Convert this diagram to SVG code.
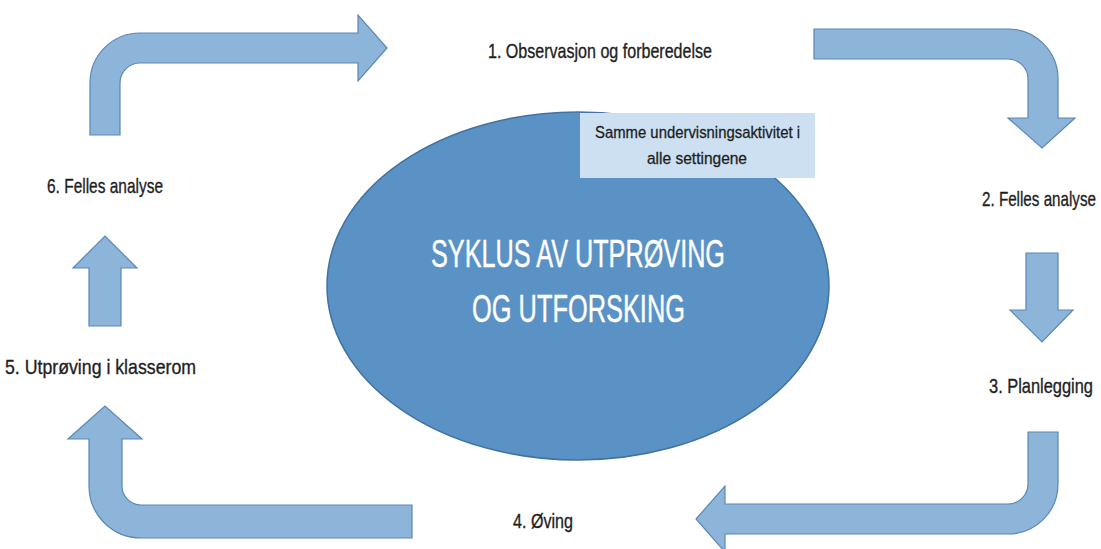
<svg xmlns="http://www.w3.org/2000/svg" width="1101" height="549" viewBox="0 0 1101 549">
<style>
.arr{fill:#8DB5DA;stroke:#5B87B5;stroke-width:1.2;stroke-linejoin:miter}
.lbl{font-family:"Liberation Sans",Arial,sans-serif;font-size:21px;fill:#1e1e1e;stroke:#1e1e1e;stroke-width:0.35}
.end{text-anchor:end}
.ttl{font-family:"Liberation Sans",Arial,sans-serif;font-size:38px;fill:#ffffff;stroke:#ffffff;stroke-width:0.4}
.box{font-family:"Liberation Sans",Arial,sans-serif;font-size:17px;fill:#1e1e1e;stroke:#1e1e1e;stroke-width:0.3}
</style>
<rect width="1101" height="549" fill="#ffffff"/>
<g id="center">
<ellipse cx="578" cy="286" rx="251" ry="174" fill="#5A92C5" stroke="#4272A0" stroke-width="1.5"/>
<text class="ttl" x="431" y="267" textLength="294" lengthAdjust="spacingAndGlyphs">SYKLUS AV UTPRØVING</text>
<text class="ttl" x="472" y="322" textLength="213" lengthAdjust="spacingAndGlyphs">OG UTFORSKING</text>
</g>
<g id="note">
<rect x="580" y="113" width="235" height="65" fill="#CCE0F2"/>
<text class="box" x="595" y="138" textLength="205" lengthAdjust="spacingAndGlyphs">Samme undervisningsaktivitet i</text>
<text class="box" x="647" y="164" textLength="100" lengthAdjust="spacingAndGlyphs">alle settingene</text>
</g>
<g id="connectors">
<path class="arr" d="M90,135 L90,83 A50,50 0 0 1 140,33 L358,33 L358,15 L387,48 L358,81 L358,63 L140,63 A20,20 0 0 0 120,83 L120,135 Z"/>
<path class="arr" d="M814,29 L1008,29 A50,50 0 0 1 1058,79 L1058,118 L1075,118 L1042,148 L1008,118 L1028,118 L1028,79 A20,20 0 0 0 1008,59 L814,59 Z"/>
<path class="arr" d="M1026,253 L1058,253 L1058,310 L1073,310 L1042,342 L1010,310 L1026,310 Z"/>
<path class="arr" d="M1028,432 L1058,432 L1058,484 A50,50 0 0 1 1008,534 L725,534 L725,552 L696,519 L725,486 L725,504 L1008,504 A20,20 0 0 0 1028,484 Z"/>
<path class="arr" d="M412,505 L141,505 A19,19 0 0 1 122,486 L122,439 L142,439 L105,406 L68,439 L89,439 L89,486 A52,52 0 0 0 141,538 L412,538 Z"/>
<path class="arr" d="M89,326 L121,326 L121,268 L137,268 L105,236 L73,268 L89,268 Z"/>
</g>
<g id="step1"><text class="lbl" x="488" y="58" textLength="224" lengthAdjust="spacingAndGlyphs">1. Observasjon og forberedelse</text></g>
<g id="step2"><text class="lbl end" x="1096" y="206" textLength="114" lengthAdjust="spacingAndGlyphs">2. Felles analyse</text></g>
<g id="step3"><text class="lbl end" x="1093" y="393" textLength="104" lengthAdjust="spacingAndGlyphs">3. Planlegging</text></g>
<g id="step4"><text class="lbl" x="513" y="528" textLength="60" lengthAdjust="spacingAndGlyphs">4. Øving</text></g>
<g id="step5"><text class="lbl" x="5" y="374" textLength="191" lengthAdjust="spacingAndGlyphs">5. Utprøving i klasserom</text></g>
<g id="step6"><text class="lbl" x="47" y="193" textLength="116" lengthAdjust="spacingAndGlyphs">6. Felles analyse</text></g>
</svg>
